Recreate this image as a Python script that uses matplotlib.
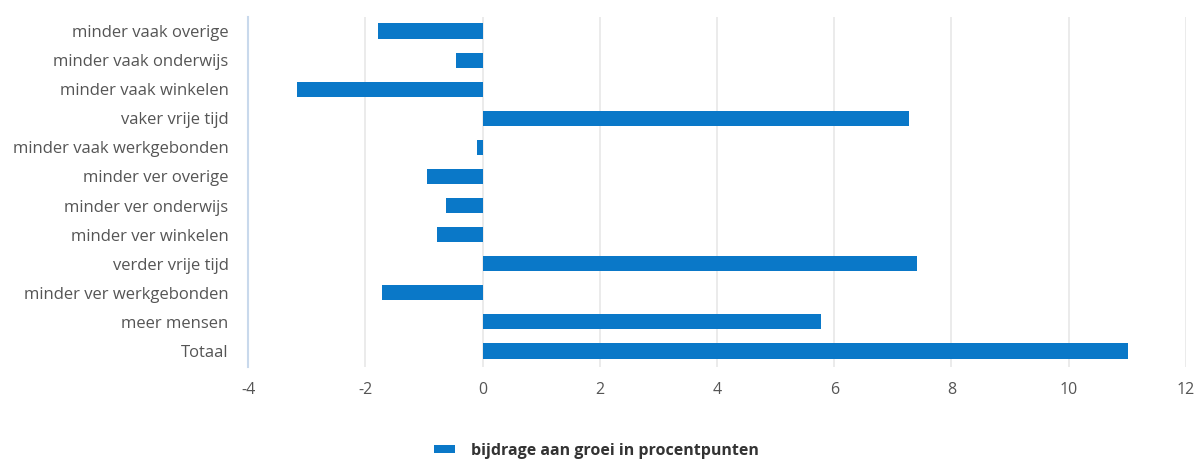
import matplotlib
matplotlib.use("Agg")
import matplotlib.pyplot as plt
from matplotlib.patches import Patch

categories = [
    "minder vaak overige",
    "minder vaak onderwijs",
    "minder vaak winkelen",
    "vaker vrije tijd",
    "minder vaak werkgebonden",
    "minder ver overige",
    "minder ver onderwijs",
    "minder ver winkelen",
    "verder vrije tijd",
    "minder ver werkgebonden",
    "meer mensen",
    "Totaal",
]
values = [-1.78, -0.45, -3.17, 7.27, -0.10, -0.95, -0.62, -0.77, 7.41, -1.71, 5.78, 11.01]
x_ticks = [-4, -2, 0, 2, 4, 6, 8, 10, 12]
legend_label = "bijdrage aan groei in procentpunten"

bar_color = "#0a78c8"
text_color = "#555555"

plt.rcParams["font.family"] = ["Open Sans", "DejaVu Sans"]

fig = plt.figure(figsize=(11.97, 4.61), dpi=100)
ax = fig.add_axes([0.2072, 0.204, 0.7836, 0.759])

n = len(categories)
ypos = list(range(n - 1, -1, -1))
ax.barh(ypos, values, height=0.52, color=bar_color, zorder=3)

ax.set_xlim(-4, 12)
ax.set_ylim(-0.55, n - 1 + 0.48)
ax.set_xticks(x_ticks)
ax.set_xticklabels([str(t) for t in x_ticks], color=text_color, fontsize=11.5)
ax.set_yticks(ypos)
ax.set_yticklabels(categories, color=text_color, fontsize=12)

ax.tick_params(axis="x", length=0, pad=11)
ax.tick_params(axis="y", length=0, pad=14)

ax.grid(axis="x", color="#ebebeb", linewidth=1.4, zorder=0)
ax.grid(axis="y", visible=False)
for s in ["top", "right", "bottom"]:
    ax.spines[s].set_visible(False)
ax.spines["left"].set_color("#c9d9ec")
ax.spines["left"].set_linewidth(1.5)

handle = Patch(facecolor=bar_color, edgecolor="none")
fig.legend([handle], [legend_label], loc="center", bbox_to_anchor=(0.498, 0.022),
           frameon=False, handlelength=1.3, handleheight=0.35, handletextpad=1.0,
           prop={"size": 11.5, "weight": "bold"}, labelcolor="#333333")

fig.savefig("out.png", dpi=100)
